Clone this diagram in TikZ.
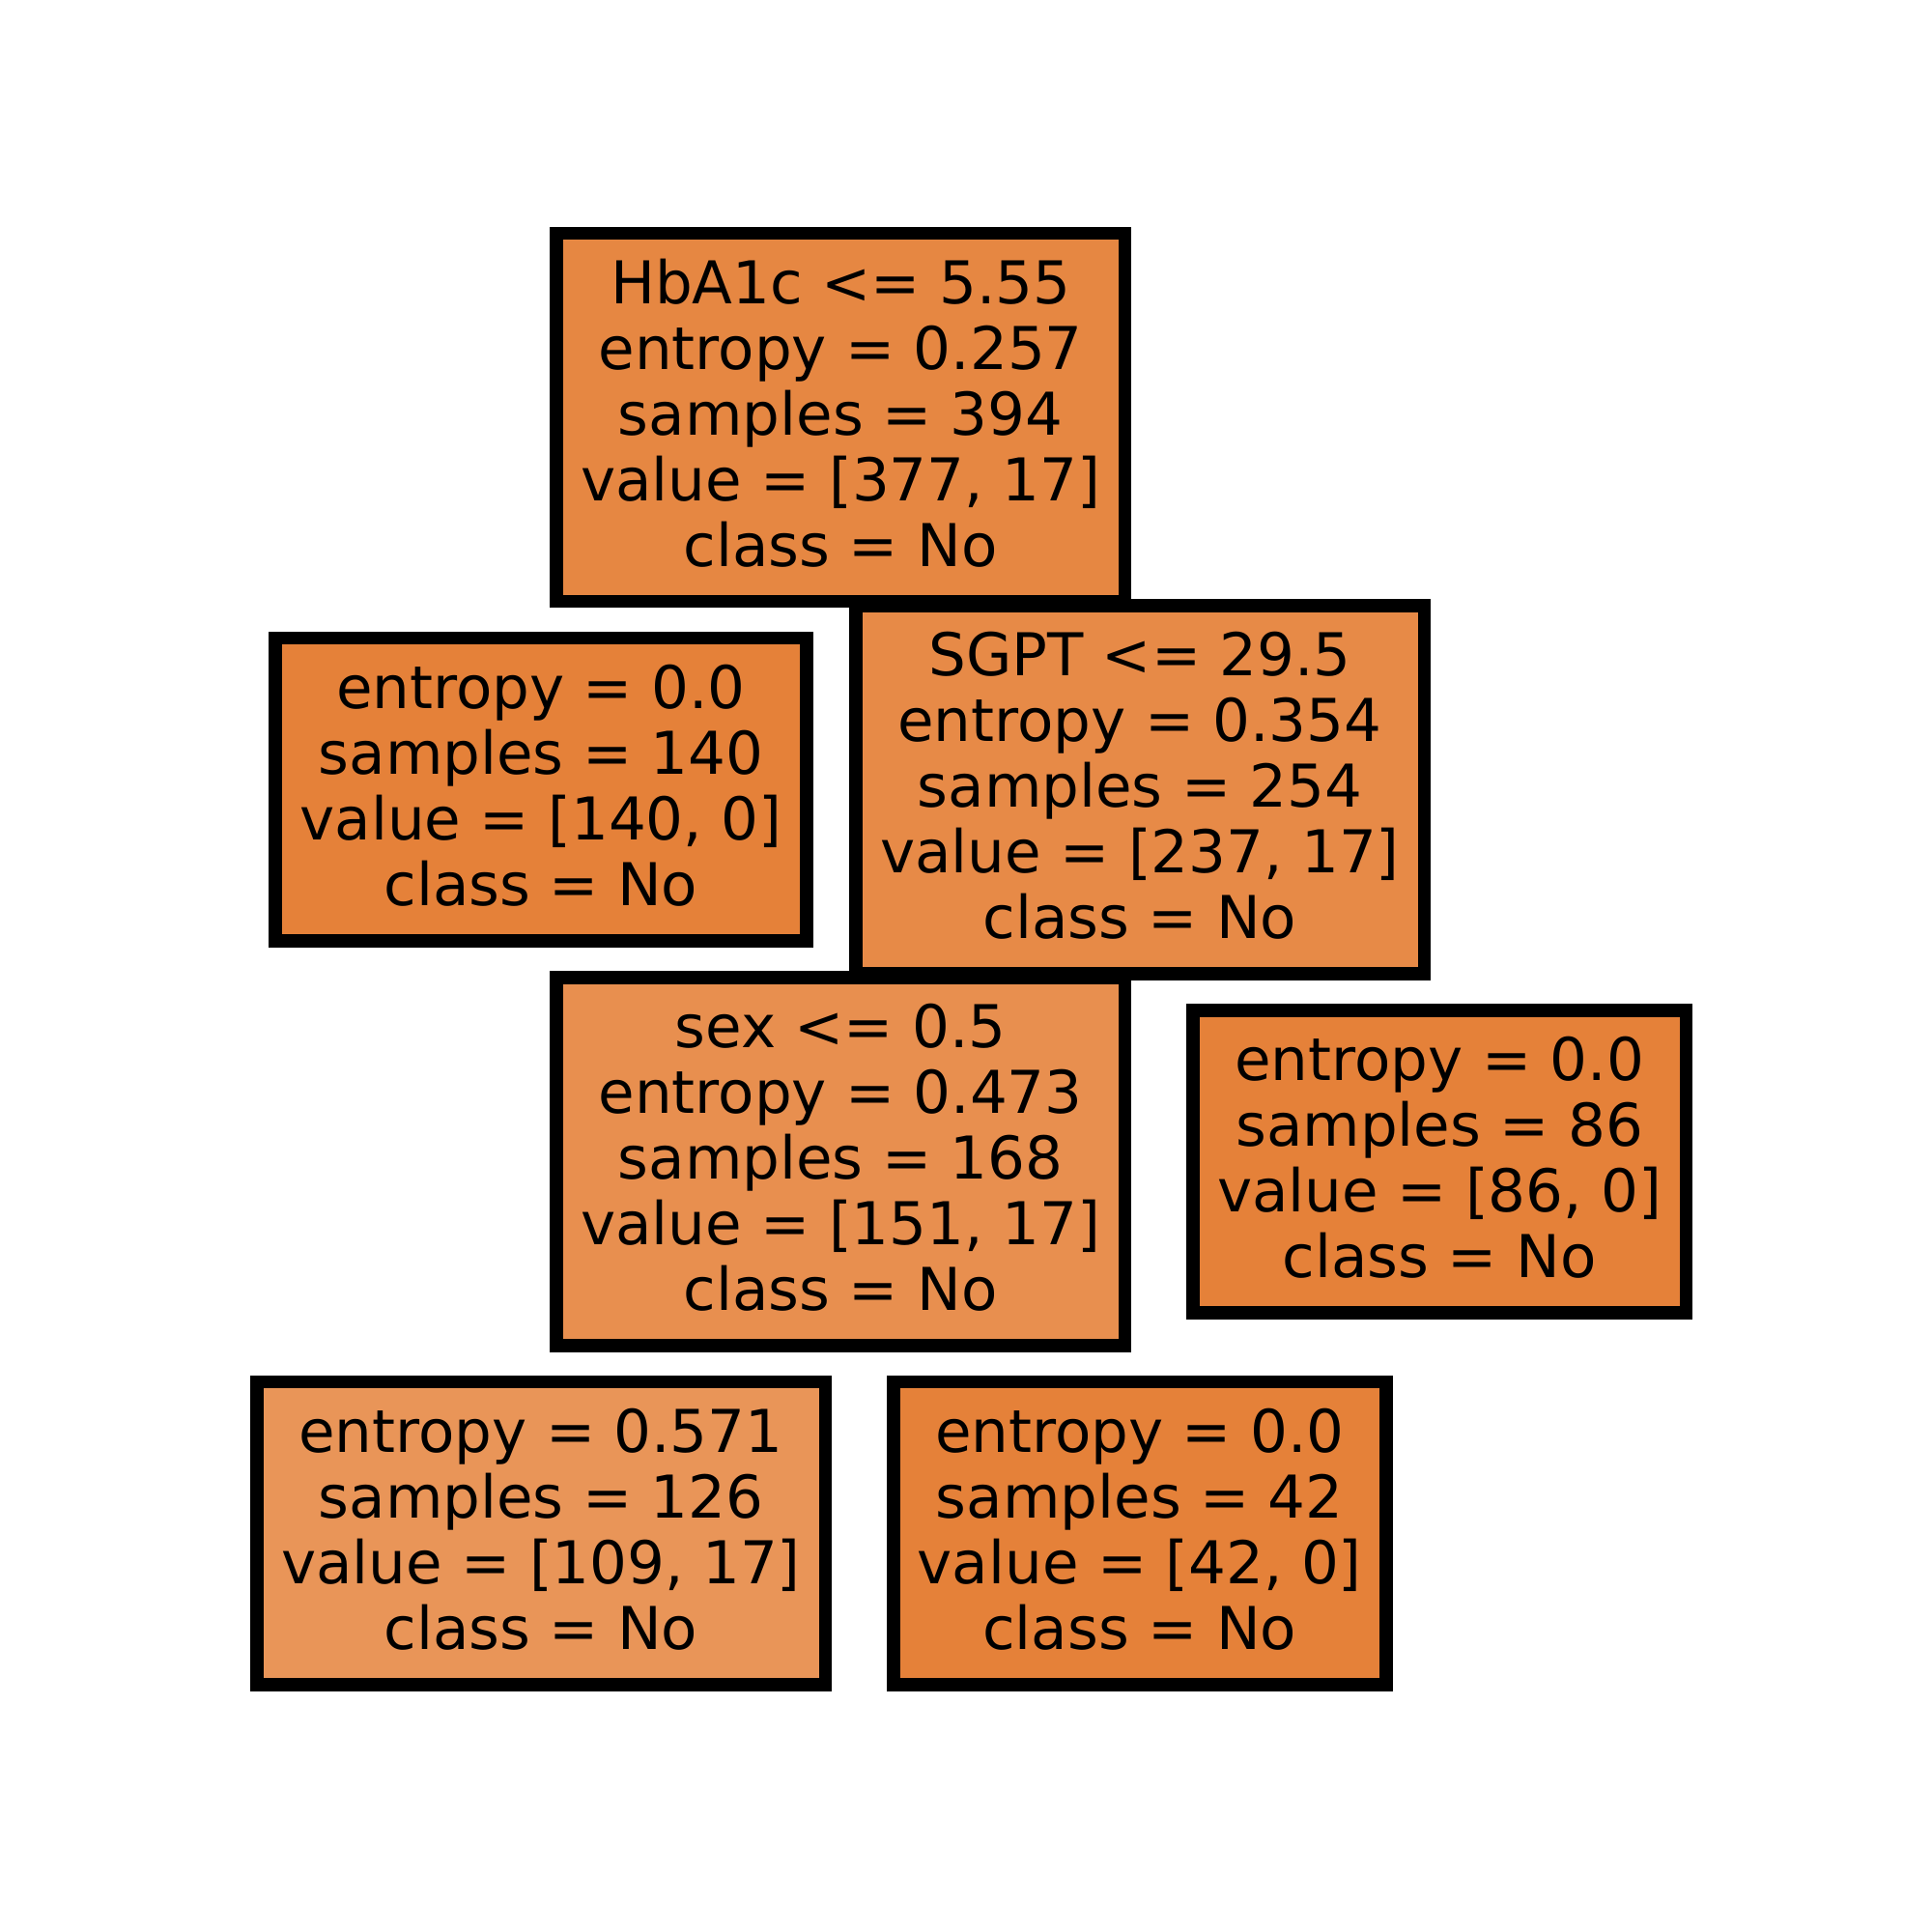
\documentclass[tikz,border=0pt]{standalone}
\usepackage{fontspec}
\setmainfont{DejaVu Sans}
\usetikzlibrary{calc,arrows.meta,backgrounds}
\definecolor{cpure}{RGB}{229,129,57}
\definecolor{croot}{RGB}{230,135,66}
\definecolor{csgpt}{RGB}{231,138,71}
\definecolor{csex}{RGB}{232,143,79}
\definecolor{cmix}{RGB}{233,149,88}
\newcommand\lnstrut{\rule[-0.2em]{0pt}{1em}}
\tikzset{
  treenode/.style={draw=black, line width=0.135cm, inner sep=0pt, outer sep=0pt,
    align=center, font=\fontsize{17.38pt}{19.35pt}\selectfont},
  fivebox/.style={treenode, minimum height=3.81cm},
  fourbox/.style={treenode, minimum height=3.132cm},
  edgetip/.style={line width=0.01cm, -{Triangle[length=0.1cm,width=0.36cm]}}
}
\begin{document}
\begin{tikzpicture}
\useasboundingbox (0,0) rectangle (20,20);
\fill[white] (0,0) rectangle (20,20);

\node[fivebox, fill=croot, minimum width=5.882cm] (root) at (8.702,15.6775)
  {\lnstrut HbA1c <= 5.55\\\lnstrut entropy = 0.257\\\lnstrut samples = 394\\\lnstrut value = [377, 17]\\\lnstrut class = No};
\node[fourbox, fill=cpure, minimum width=5.499cm] (leafA) at (5.600,11.8265)
  {\lnstrut entropy = 0.0\\\lnstrut samples = 140\\\lnstrut value = [140, 0]\\\lnstrut class = No};
\node[fivebox, fill=csgpt, minimum width=5.885cm] (sgpt) at (11.80,11.825)
  {\lnstrut SGPT <= 29.5\\\lnstrut entropy = 0.354\\\lnstrut samples = 254\\\lnstrut value = [237, 17]\\\lnstrut class = No};
\node[fivebox, fill=csex, minimum width=5.882cm] (sex) at (8.7015,7.975)
  {\lnstrut sex <= 0.5\\\lnstrut entropy = 0.473\\\lnstrut samples = 168\\\lnstrut value = [151, 17]\\\lnstrut class = No};
\node[fourbox, fill=cpure, minimum width=5.102cm] (leafB) at (14.9015,7.975)
  {\lnstrut entropy = 0.0\\\lnstrut samples = 86\\\lnstrut value = [86, 0]\\\lnstrut class = No};
\node[fourbox, fill=cmix, minimum width=5.885cm] (leafC) at (5.600,4.1265)
  {\lnstrut entropy = 0.571\\\lnstrut samples = 126\\\lnstrut value = [109, 17]\\\lnstrut class = No};
\node[fourbox, fill=cpure, minimum width=5.10cm] (leafD) at (11.7975,4.1265)
  {\lnstrut entropy = 0.0\\\lnstrut samples = 42\\\lnstrut value = [42, 0]\\\lnstrut class = No};

\begin{scope}[on background layer]
\draw[edgetip] (root.center) -- ($(root.center)!0.5232!(leafA.center)$);
\draw[edgetip] (root.center) -- ($(root.center)!0.5230!(sgpt.center)$);
\draw[edgetip] (sgpt.center) -- ($(sgpt.center)!0.5240!(sex.center)$);
\draw[edgetip] (sgpt.center) -- ($(sgpt.center)!0.5240!(leafB.center)$);
\draw[edgetip] (sex.center) -- ($(sex.center)!0.5226!(leafC.center)$);
\draw[edgetip] (sex.center) -- ($(sex.center)!0.5226!(leafD.center)$);
\end{scope}
\end{tikzpicture}
\end{document}
